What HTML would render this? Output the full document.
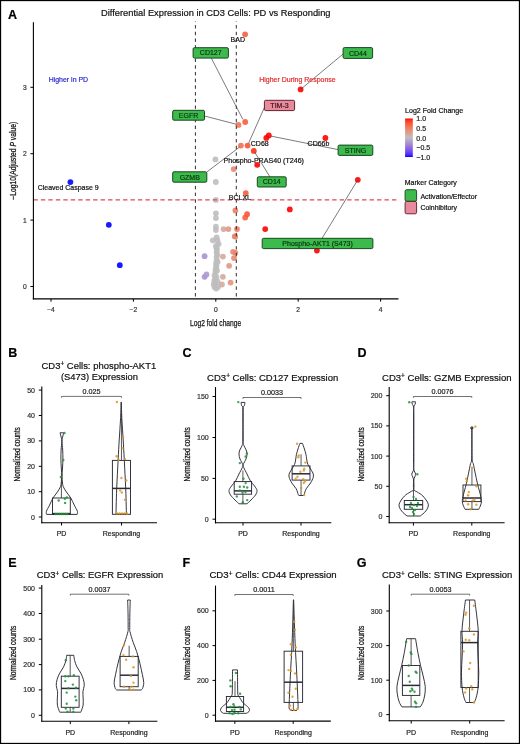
<!DOCTYPE html>
<html><head><meta charset="utf-8"><style>
html,body{margin:0;padding:0;background:#fff;}
svg{display:block;filter:blur(0.3px);font-family:"Liberation Sans", sans-serif;}
</style></head><body>
<svg width="520" height="744" viewBox="0 0 520 744">
<rect x="0" y="0" width="520" height="744" fill="#fff"/>
<text x="8" y="19" font-size="12.5" font-weight="bold" fill="#000" stroke="#000" stroke-width="0.2">A</text>
<text x="101" y="16.3" font-size="9.5" textLength="229.5" lengthAdjust="spacingAndGlyphs" fill="#111" stroke="#111" stroke-width="0.2">Differential Expression in CD3 Cells: PD vs Responding</text>
<circle cx="245.1" cy="34.3" r="2.9" fill="#f75e3f" fill-opacity="0.9"/>
<circle cx="300.6" cy="89.4" r="2.9" fill="#ff0000" fill-opacity="0.9"/>
<circle cx="325.4" cy="138" r="2.9" fill="#ff0000" fill-opacity="0.9"/>
<circle cx="245.2" cy="122" r="2.9" fill="#f75e3f" fill-opacity="0.9"/>
<circle cx="238.5" cy="124.9" r="2.9" fill="#f0785b" fill-opacity="0.9"/>
<circle cx="240.9" cy="145.6" r="2.9" fill="#f36f51" fill-opacity="0.9"/>
<circle cx="247.6" cy="145.6" r="2.9" fill="#f95334" fill-opacity="0.9"/>
<circle cx="253.8" cy="150.9" r="2.9" fill="#fd2e16" fill-opacity="0.9"/>
<circle cx="257.2" cy="164.8" r="2.9" fill="#ff0000" fill-opacity="0.9"/>
<circle cx="266.3" cy="137.9" r="2.9" fill="#ff0000" fill-opacity="0.9"/>
<circle cx="268.8" cy="135.5" r="2.9" fill="#ff0000" fill-opacity="0.9"/>
<circle cx="233.7" cy="169.1" r="2.9" fill="#ea8870" fill-opacity="0.9"/>
<circle cx="245.8" cy="193.1" r="2.9" fill="#f85b3c" fill-opacity="0.9"/>
<circle cx="357.8" cy="179.8" r="2.9" fill="#ff0000" fill-opacity="0.9"/>
<circle cx="289.8" cy="209.4" r="2.9" fill="#ff0000" fill-opacity="0.9"/>
<circle cx="265.2" cy="229.1" r="2.9" fill="#ff0000" fill-opacity="0.9"/>
<circle cx="316.9" cy="250.6" r="2.9" fill="#ff0000" fill-opacity="0.9"/>
<circle cx="70.4" cy="182.1" r="2.9" fill="#0000ff" fill-opacity="0.9"/>
<circle cx="108.8" cy="224.8" r="2.9" fill="#0000ff" fill-opacity="0.9"/>
<circle cx="119.8" cy="265.2" r="2.9" fill="#0000ff" fill-opacity="0.9"/>
<circle cx="215.4" cy="159.4" r="2.9" fill="#bebebe" fill-opacity="0.9"/>
<circle cx="215.8" cy="182" r="2.9" fill="#bebebe" fill-opacity="0.9"/>
<circle cx="215.9" cy="199.9" r="2.9" fill="#bebebe" fill-opacity="0.9"/>
<circle cx="215.9" cy="213.3" r="2.9" fill="#bebebe" fill-opacity="0.9"/>
<circle cx="215.9" cy="218.1" r="2.9" fill="#bebebe" fill-opacity="0.9"/>
<circle cx="215.9" cy="226.7" r="2.9" fill="#bebebe" fill-opacity="0.9"/>
<circle cx="215.9" cy="230.1" r="2.9" fill="#bebebe" fill-opacity="0.9"/>
<circle cx="216.6" cy="237.4" r="2.9" fill="#bebebe" fill-opacity="0.9"/>
<circle cx="212.8" cy="240.3" r="2.9" fill="#bebebe" fill-opacity="0.9"/>
<circle cx="218.6" cy="244.1" r="2.9" fill="#bebebe" fill-opacity="0.9"/>
<circle cx="216.6" cy="248" r="2.9" fill="#bebebe" fill-opacity="0.9"/>
<circle cx="216.6" cy="252.3" r="2.9" fill="#bebebe" fill-opacity="0.9"/>
<circle cx="216.6" cy="257.1" r="2.9" fill="#bebebe" fill-opacity="0.9"/>
<circle cx="216" cy="263.8" r="2.9" fill="#bebebe" fill-opacity="0.9"/>
<circle cx="216" cy="267.7" r="2.9" fill="#bebebe" fill-opacity="0.9"/>
<circle cx="215.5" cy="272.5" r="2.9" fill="#bebebe" fill-opacity="0.9"/>
<circle cx="214.5" cy="275.4" r="2.9" fill="#bebebe" fill-opacity="0.9"/>
<circle cx="215" cy="279.2" r="2.9" fill="#bebebe" fill-opacity="0.9"/>
<circle cx="215.5" cy="283.1" r="2.9" fill="#bebebe" fill-opacity="0.9"/>
<circle cx="214.5" cy="286.9" r="2.9" fill="#bebebe" fill-opacity="0.9"/>
<circle cx="218" cy="286.9" r="2.9" fill="#bebebe" fill-opacity="0.9"/>
<circle cx="216.6" cy="260.5" r="2.9" fill="#bebebe" fill-opacity="0.9"/>
<circle cx="215.5" cy="269.8" r="2.9" fill="#bebebe" fill-opacity="0.9"/>
<circle cx="216.5" cy="277" r="2.9" fill="#bebebe" fill-opacity="0.9"/>
<circle cx="217.5" cy="240.5" r="2.9" fill="#bebebe" fill-opacity="0.9"/>
<circle cx="216.8" cy="250" r="2.9" fill="#bebebe" fill-opacity="0.9"/>
<circle cx="217.2" cy="254.7" r="2.9" fill="#bebebe" fill-opacity="0.9"/>
<circle cx="216.5" cy="265.8" r="2.9" fill="#bebebe" fill-opacity="0.9"/>
<circle cx="217" cy="270.5" r="2.9" fill="#bebebe" fill-opacity="0.9"/>
<circle cx="214.2" cy="281" r="2.9" fill="#bebebe" fill-opacity="0.9"/>
<circle cx="217.5" cy="281.5" r="2.9" fill="#bebebe" fill-opacity="0.9"/>
<circle cx="216.2" cy="288.6" r="2.9" fill="#bebebe" fill-opacity="0.9"/>
<circle cx="213.8" cy="284.5" r="2.9" fill="#bebebe" fill-opacity="0.9"/>
<circle cx="217.6" cy="262" r="2.9" fill="#bebebe" fill-opacity="0.9"/>
<circle cx="216" cy="246" r="2.9" fill="#bebebe" fill-opacity="0.9"/>
<circle cx="204.6" cy="256.2" r="2.9" fill="#aa92d2" fill-opacity="0.9"/>
<circle cx="204.6" cy="276.8" r="2.9" fill="#aa92d2" fill-opacity="0.9"/>
<circle cx="206.5" cy="274.4" r="2.9" fill="#ae9acf" fill-opacity="0.9"/>
<circle cx="223.6" cy="229.1" r="2.9" fill="#d5a79b" fill-opacity="0.9"/>
<circle cx="228.4" cy="229.1" r="2.9" fill="#e09986" fill-opacity="0.9"/>
<circle cx="222.9" cy="256.6" r="2.9" fill="#d4a99e" fill-opacity="0.9"/>
<circle cx="222.9" cy="276.8" r="2.9" fill="#d4a99e" fill-opacity="0.9"/>
<circle cx="221.9" cy="284.5" r="2.9" fill="#d1aca3" fill-opacity="0.9"/>
<circle cx="235.4" cy="210.4" r="2.9" fill="#ec8268" fill-opacity="0.9"/>
<circle cx="237" cy="229.1" r="2.9" fill="#ee7d62" fill-opacity="0.9"/>
<circle cx="235.1" cy="236.3" r="2.9" fill="#ec836a" fill-opacity="0.9"/>
<circle cx="233" cy="251.8" r="2.9" fill="#e88a73" fill-opacity="0.9"/>
<circle cx="235.4" cy="252.8" r="2.9" fill="#ec8268" fill-opacity="0.9"/>
<circle cx="234" cy="258.1" r="2.9" fill="#ea876e" fill-opacity="0.9"/>
<circle cx="229.1" cy="265.8" r="2.9" fill="#e29783" fill-opacity="0.9"/>
<circle cx="230.6" cy="282.6" r="2.9" fill="#e4927d" fill-opacity="0.9"/>
<circle cx="234.9" cy="236.4" r="2.9" fill="#eb846b" fill-opacity="0.9"/>
<circle cx="245.2" cy="217.6" r="2.9" fill="#f75e3f" fill-opacity="0.9"/>
<circle cx="247.1" cy="214.2" r="2.9" fill="#f95537" fill-opacity="0.9"/>
<line x1="195.4" y1="21.3" x2="195.4" y2="298.5" stroke="#222" stroke-width="0.95" stroke-dasharray="3.4 3.3" stroke-dashoffset="2.9"/>
<line x1="236.3" y1="21.3" x2="236.3" y2="298.5" stroke="#222" stroke-width="0.95" stroke-dasharray="3.4 3.3" stroke-dashoffset="2.9"/>
<line x1="33.4" y1="199.9" x2="396.5" y2="199.9" stroke="#da4a5c" stroke-width="1.3" stroke-dasharray="4.4 3.07"/>
<line x1="211.3" y1="58.1" x2="242.8" y2="119.3" stroke="#444" stroke-width="0.7"/>
<line x1="204.5" y1="116" x2="236.5" y2="124.3" stroke="#444" stroke-width="0.7"/>
<line x1="264.4" y1="107.5" x2="248.6" y2="143.2" stroke="#444" stroke-width="0.7"/>
<line x1="206.8" y1="172" x2="239.4" y2="147.2" stroke="#444" stroke-width="0.7"/>
<line x1="254.8" y1="152.3" x2="270" y2="177" stroke="#444" stroke-width="0.7"/>
<line x1="270.5" y1="136" x2="338" y2="149.6" stroke="#444" stroke-width="0.7"/>
<line x1="300.6" y1="89.4" x2="343.1" y2="54" stroke="#444" stroke-width="0.7"/>
<line x1="357.8" y1="179.8" x2="322" y2="238.3" stroke="#444" stroke-width="0.7"/>
<text x="230.6" y="42" font-size="7" fill="#111" stroke="#111" stroke-width="0.2">BAD</text>
<text x="250.8" y="145.6" font-size="7" fill="#111" stroke="#111" stroke-width="0.2">CD68</text>
<text x="307.6" y="145.8" font-size="7" fill="#111" stroke="#111" stroke-width="0.2">CD66b</text>
<text x="223.5" y="162.9" font-size="7" textLength="80.5" lengthAdjust="spacingAndGlyphs" fill="#111" stroke="#111" stroke-width="0.2">Phospho-PRAS40 (T246)</text>
<text x="228.8" y="200.2" font-size="7" fill="#111" stroke="#111" stroke-width="0.2">BCLXL</text>
<text x="37.7" y="189.8" font-size="7" textLength="61" lengthAdjust="spacingAndGlyphs" fill="#111" stroke="#111" stroke-width="0.2">Cleaved Caspase 9</text>
<text x="48.7" y="81.9" font-size="7" textLength="39.4" lengthAdjust="spacingAndGlyphs" fill="#2b2bd0" stroke="#2b2bd0" stroke-width="0.2">Higher in PD</text>
<text x="259.25" y="81.8" font-size="7" textLength="76.5" lengthAdjust="spacingAndGlyphs" fill="#e32a2a" stroke="#e32a2a" stroke-width="0.2">Higher During Response</text>
<rect x="193.1" y="47.7" width="35.30000000000001" height="10.399999999999999" rx="1.3" fill="#3cba4c" stroke="#133f1b" stroke-width="0.95"/>
<text x="210.75" y="55.400000000000006" font-size="7" text-anchor="middle" fill="#0b3312" stroke="#0b3312" stroke-width="0.18">CD127</text>
<rect x="343.1" y="47.6" width="29.5" height="10.799999999999997" rx="1.3" fill="#3cba4c" stroke="#133f1b" stroke-width="0.95"/>
<text x="357.85" y="55.5" font-size="7" text-anchor="middle" fill="#0b3312" stroke="#0b3312" stroke-width="0.18">CD44</text>
<rect x="264.4" y="100.3" width="30.200000000000045" height="10.299999999999997" rx="1.3" fill="#e78a9c" stroke="#5a1a28" stroke-width="0.95"/>
<text x="279.5" y="107.94999999999999" font-size="7" text-anchor="middle" fill="#3d0f1a" stroke="#3d0f1a" stroke-width="0.18">TIM-3</text>
<rect x="172.7" y="110.3" width="31.80000000000001" height="9.900000000000006" rx="1.3" fill="#3cba4c" stroke="#133f1b" stroke-width="0.95"/>
<text x="188.6" y="117.75" font-size="7" text-anchor="middle" fill="#0b3312" stroke="#0b3312" stroke-width="0.18">EGFR</text>
<rect x="338.1" y="145.1" width="34.69999999999999" height="10.300000000000011" rx="1.3" fill="#3cba4c" stroke="#133f1b" stroke-width="0.95"/>
<text x="355.45000000000005" y="152.75" font-size="7" text-anchor="middle" fill="#0b3312" stroke="#0b3312" stroke-width="0.18">STING</text>
<rect x="172.7" y="171.8" width="34.10000000000002" height="10.399999999999977" rx="1.3" fill="#3cba4c" stroke="#133f1b" stroke-width="0.95"/>
<text x="189.75" y="179.5" font-size="7" text-anchor="middle" fill="#0b3312" stroke="#0b3312" stroke-width="0.18">GZMB</text>
<rect x="257.3" y="176.8" width="28.899999999999977" height="10.199999999999989" rx="1.3" fill="#3cba4c" stroke="#133f1b" stroke-width="0.95"/>
<text x="271.75" y="184.4" font-size="7" text-anchor="middle" fill="#0b3312" stroke="#0b3312" stroke-width="0.18">CD14</text>
<rect x="262.2" y="238.3" width="110.69999999999999" height="10.299999999999983" rx="1.3" fill="#3cba4c" stroke="#133f1b" stroke-width="0.95"/>
<text x="317.54999999999995" y="245.95" font-size="7" text-anchor="middle" fill="#0b3312" stroke="#0b3312" stroke-width="0.18">Phospho-AKT1 (S473)</text>
<line x1="33.4" y1="22.3" x2="33.4" y2="299.45" stroke="#000" stroke-width="1.1"/>
<line x1="32.85" y1="298.9" x2="398.5" y2="298.9" stroke="#000" stroke-width="1.1"/>
<line x1="30.4" y1="286.5" x2="33.4" y2="286.5" stroke="#000" stroke-width="1.0"/>
<text x="26.8" y="288.9" font-size="6.7" text-anchor="end" fill="#333" stroke="#333" stroke-width="0.2">0</text>
<line x1="30.4" y1="220.1" x2="33.4" y2="220.1" stroke="#000" stroke-width="1.0"/>
<text x="26.8" y="222.5" font-size="6.7" text-anchor="end" fill="#333" stroke="#333" stroke-width="0.2">1</text>
<line x1="30.4" y1="153.7" x2="33.4" y2="153.7" stroke="#000" stroke-width="1.0"/>
<text x="26.8" y="156.1" font-size="6.7" text-anchor="end" fill="#333" stroke="#333" stroke-width="0.2">2</text>
<line x1="30.4" y1="87.29999999999998" x2="33.4" y2="87.29999999999998" stroke="#000" stroke-width="1.0"/>
<text x="26.8" y="89.69999999999999" font-size="6.7" text-anchor="end" fill="#333" stroke="#333" stroke-width="0.2">3</text>
<line x1="51.0" y1="298.9" x2="51.0" y2="301.7" stroke="#000" stroke-width="1.0"/>
<text x="51.0" y="312" font-size="6.7" text-anchor="middle" fill="#333" stroke="#333" stroke-width="0.2">−4</text>
<line x1="133.4" y1="298.9" x2="133.4" y2="301.7" stroke="#000" stroke-width="1.0"/>
<text x="133.4" y="312" font-size="6.7" text-anchor="middle" fill="#333" stroke="#333" stroke-width="0.2">−2</text>
<line x1="215.8" y1="298.9" x2="215.8" y2="301.7" stroke="#000" stroke-width="1.0"/>
<text x="215.8" y="312" font-size="6.7" text-anchor="middle" fill="#333" stroke="#333" stroke-width="0.2">0</text>
<line x1="298.20000000000005" y1="298.9" x2="298.20000000000005" y2="301.7" stroke="#000" stroke-width="1.0"/>
<text x="298.20000000000005" y="312" font-size="6.7" text-anchor="middle" fill="#333" stroke="#333" stroke-width="0.2">2</text>
<line x1="380.6" y1="298.9" x2="380.6" y2="301.7" stroke="#000" stroke-width="1.0"/>
<text x="380.6" y="312" font-size="6.7" text-anchor="middle" fill="#333" stroke="#333" stroke-width="0.2">4</text>
<text x="190" y="326" font-size="9.6" textLength="51.2" lengthAdjust="spacingAndGlyphs" fill="#111" stroke="#111" stroke-width="0.25">Log2 fold change</text>
<text transform="translate(16.1,160.75) rotate(-90)" x="0" y="0" font-size="8.3" text-anchor="middle" textLength="78" lengthAdjust="spacingAndGlyphs" fill="#111" stroke="#111" stroke-width="0.25">−Log10(Adjusted <tspan font-style="italic">P</tspan> value)</text>
<text x="405.1" y="113.1" font-size="7" textLength="58" lengthAdjust="spacingAndGlyphs" fill="#111" stroke="#111" stroke-width="0.2">Log2 Fold Change</text>
<defs><linearGradient id="cb" x1="0" y1="0" x2="0" y2="1"><stop offset="0.000" stop-color="#ff0000"/><stop offset="0.050" stop-color="#fd351c"/><stop offset="0.100" stop-color="#fa4d2f"/><stop offset="0.150" stop-color="#f76041"/><stop offset="0.200" stop-color="#f37053"/><stop offset="0.250" stop-color="#ed7f64"/><stop offset="0.300" stop-color="#e78d76"/><stop offset="0.350" stop-color="#e09a87"/><stop offset="0.400" stop-color="#d7a699"/><stop offset="0.450" stop-color="#ccb2ac"/><stop offset="0.500" stop-color="#bebebe"/><stop offset="0.550" stop-color="#b7aec6"/><stop offset="0.600" stop-color="#b09ecd"/><stop offset="0.650" stop-color="#a78ed4"/><stop offset="0.700" stop-color="#9e7eda"/><stop offset="0.750" stop-color="#926de1"/><stop offset="0.800" stop-color="#855de7"/><stop offset="0.850" stop-color="#754ced"/><stop offset="0.900" stop-color="#6139f3"/><stop offset="0.950" stop-color="#4624f9"/><stop offset="1.000" stop-color="#0000ff"/></linearGradient></defs>
<rect x="405.1" y="118.5" width="7.7" height="38.5" fill="url(#cb)"/>
<text x="416.3" y="121.4" font-size="7" fill="#222" stroke="#222" stroke-width="0.2">1.0</text>
<text x="416.3" y="131.0" font-size="7" fill="#222" stroke="#222" stroke-width="0.2">0.5</text>
<text x="416.3" y="140.5" font-size="7" fill="#222" stroke="#222" stroke-width="0.2">0.0</text>
<text x="416.3" y="150.1" font-size="7" fill="#222" stroke="#222" stroke-width="0.2">−0.5</text>
<text x="416.3" y="159.7" font-size="7" fill="#222" stroke="#222" stroke-width="0.2">−1.0</text>
<text x="404.8" y="184.7" font-size="7" textLength="52" lengthAdjust="spacingAndGlyphs" fill="#111" stroke="#111" stroke-width="0.2">Marker Category</text>
<rect x="405.1" y="189.7" width="11.5" height="11.6" rx="1.5" fill="#3cba4c" stroke="#133f1b" stroke-width="0.9"/>
<rect x="405.1" y="201.4" width="11.5" height="12.4" rx="1.5" fill="#e78a9c" stroke="#5a1a28" stroke-width="0.9"/>
<text x="420.4" y="199.3" font-size="7" textLength="56.6" lengthAdjust="spacingAndGlyphs" fill="#111" stroke="#111" stroke-width="0.2">Activation/Effector</text>
<text x="420.4" y="210.2" font-size="7" textLength="36.7" lengthAdjust="spacingAndGlyphs" fill="#111" stroke="#111" stroke-width="0.2">Coinhibitory</text>
<text x="8.3" y="357" font-size="12.5" font-weight="bold" fill="#000" stroke="#000" stroke-width="0.2">B</text>
<text x="41.5" y="369.1" font-size="9.6" textLength="114.7" lengthAdjust="spacingAndGlyphs" fill="#111" stroke="#111" stroke-width="0.2">CD3<tspan font-size="6.6" dy="-2.7">+</tspan><tspan dy="2.7"> </tspan>Cells: phospho-AKT1</text>
<text x="60.9" y="380.2" font-size="9.6" textLength="77.1" lengthAdjust="spacingAndGlyphs" fill="#111" stroke="#111" stroke-width="0.2">(S473) Expression</text>
<line x1="41.8" y1="386.4" x2="41.8" y2="523.25" stroke="#000" stroke-width="1.1"/>
<line x1="41.25" y1="522.7" x2="157.0" y2="522.7" stroke="#000" stroke-width="1.1"/>
<line x1="38.8" y1="517" x2="41.8" y2="517" stroke="#000" stroke-width="1.0"/>
<text x="35.0" y="519.5" font-size="7" text-anchor="end" fill="#333" stroke="#333" stroke-width="0.2">0</text>
<line x1="38.8" y1="491.7" x2="41.8" y2="491.7" stroke="#000" stroke-width="1.0"/>
<text x="35.0" y="494.2" font-size="7" text-anchor="end" fill="#333" stroke="#333" stroke-width="0.2">10</text>
<line x1="38.8" y1="466.3" x2="41.8" y2="466.3" stroke="#000" stroke-width="1.0"/>
<text x="35.0" y="468.8" font-size="7" text-anchor="end" fill="#333" stroke="#333" stroke-width="0.2">20</text>
<line x1="38.8" y1="440.9" x2="41.8" y2="440.9" stroke="#000" stroke-width="1.0"/>
<text x="35.0" y="443.4" font-size="7" text-anchor="end" fill="#333" stroke="#333" stroke-width="0.2">30</text>
<line x1="38.8" y1="415.5" x2="41.8" y2="415.5" stroke="#000" stroke-width="1.0"/>
<text x="35.0" y="418.0" font-size="7" text-anchor="end" fill="#333" stroke="#333" stroke-width="0.2">40</text>
<line x1="38.8" y1="390.1" x2="41.8" y2="390.1" stroke="#000" stroke-width="1.0"/>
<text x="35.0" y="392.6" font-size="7" text-anchor="end" fill="#333" stroke="#333" stroke-width="0.2">50</text>
<line x1="61.5" y1="522.7" x2="61.5" y2="525.5" stroke="#000" stroke-width="1.0"/>
<text x="61.5" y="536.3" font-size="7" text-anchor="middle" fill="#222" stroke="#222" stroke-width="0.2">PD</text>
<line x1="121.5" y1="522.7" x2="121.5" y2="525.5" stroke="#000" stroke-width="1.0"/>
<text x="121.5" y="536.3" font-size="7" text-anchor="middle" fill="#222" stroke="#222" stroke-width="0.2">Responding</text>
<path d="M61.5,397.79999999999995 V396.4 H121.5 V397.79999999999995" fill="none" stroke="#444" stroke-width="0.75"/>
<text x="91.5" y="394.2" font-size="7.2" text-anchor="middle" fill="#222" stroke="#222" stroke-width="0.2">0.025</text>
<text transform="translate(20.3,454.3) rotate(-90)" x="0" y="0" font-size="8.4" text-anchor="middle" textLength="54.3" lengthAdjust="spacingAndGlyphs" fill="#111" stroke="#111" stroke-width="0.25">Normalized counts</text>
<text x="182.6" y="357" font-size="12.5" font-weight="bold" fill="#000" stroke="#000" stroke-width="0.2">C</text>
<text x="207.1" y="380.6" font-size="9.6" textLength="131.2" lengthAdjust="spacingAndGlyphs" fill="#111" stroke="#111" stroke-width="0.2">CD3<tspan font-size="6.6" dy="-2.7">+</tspan><tspan dy="2.7"> </tspan>Cells: CD127 Expression</text>
<line x1="215.5" y1="387.1" x2="215.5" y2="523.3499999999999" stroke="#000" stroke-width="1.1"/>
<line x1="214.95" y1="522.8" x2="331.3" y2="522.8" stroke="#000" stroke-width="1.1"/>
<line x1="212.5" y1="519.2" x2="215.5" y2="519.2" stroke="#000" stroke-width="1.0"/>
<text x="208.7" y="521.7" font-size="7" text-anchor="end" fill="#333" stroke="#333" stroke-width="0.2">0</text>
<line x1="212.5" y1="478.4" x2="215.5" y2="478.4" stroke="#000" stroke-width="1.0"/>
<text x="208.7" y="480.9" font-size="7" text-anchor="end" fill="#333" stroke="#333" stroke-width="0.2">50</text>
<line x1="212.5" y1="437.5" x2="215.5" y2="437.5" stroke="#000" stroke-width="1.0"/>
<text x="208.7" y="440.0" font-size="7" text-anchor="end" fill="#333" stroke="#333" stroke-width="0.2">100</text>
<line x1="212.5" y1="396.5" x2="215.5" y2="396.5" stroke="#000" stroke-width="1.0"/>
<text x="208.7" y="399.0" font-size="7" text-anchor="end" fill="#333" stroke="#333" stroke-width="0.2">150</text>
<line x1="243" y1="522.8" x2="243" y2="525.5999999999999" stroke="#000" stroke-width="1.0"/>
<text x="243" y="536.3" font-size="7" text-anchor="middle" fill="#222" stroke="#222" stroke-width="0.2">PD</text>
<line x1="301" y1="522.8" x2="301" y2="525.5999999999999" stroke="#000" stroke-width="1.0"/>
<text x="301" y="536.3" font-size="7" text-anchor="middle" fill="#222" stroke="#222" stroke-width="0.2">Responding</text>
<path d="M243,398.9 V397.5 H301 V398.9" fill="none" stroke="#444" stroke-width="0.75"/>
<text x="272.0" y="395.3" font-size="7.2" text-anchor="middle" fill="#222" stroke="#222" stroke-width="0.2">0.0033</text>
<text transform="translate(190.1,454.3) rotate(-90)" x="0" y="0" font-size="8.4" text-anchor="middle" textLength="54.3" lengthAdjust="spacingAndGlyphs" fill="#111" stroke="#111" stroke-width="0.25">Normalized counts</text>
<text x="357.6" y="357" font-size="12.5" font-weight="bold" fill="#000" stroke="#000" stroke-width="0.2">D</text>
<text x="382" y="380.6" font-size="9.6" textLength="129.6" lengthAdjust="spacingAndGlyphs" fill="#111" stroke="#111" stroke-width="0.2">CD3<tspan font-size="6.6" dy="-2.7">+</tspan><tspan dy="2.7"> </tspan>Cells: GZMB Expression</text>
<line x1="389.2" y1="386.9" x2="389.2" y2="523.3499999999999" stroke="#000" stroke-width="1.1"/>
<line x1="388.65" y1="522.8" x2="504.6" y2="522.8" stroke="#000" stroke-width="1.1"/>
<line x1="386.2" y1="516.5" x2="389.2" y2="516.5" stroke="#000" stroke-width="1.0"/>
<text x="382.4" y="519.0" font-size="7" text-anchor="end" fill="#333" stroke="#333" stroke-width="0.2">0</text>
<line x1="386.2" y1="486.3" x2="389.2" y2="486.3" stroke="#000" stroke-width="1.0"/>
<text x="382.4" y="488.8" font-size="7" text-anchor="end" fill="#333" stroke="#333" stroke-width="0.2">50</text>
<line x1="386.2" y1="456.1" x2="389.2" y2="456.1" stroke="#000" stroke-width="1.0"/>
<text x="382.4" y="458.6" font-size="7" text-anchor="end" fill="#333" stroke="#333" stroke-width="0.2">100</text>
<line x1="386.2" y1="425.9" x2="389.2" y2="425.9" stroke="#000" stroke-width="1.0"/>
<text x="382.4" y="428.4" font-size="7" text-anchor="end" fill="#333" stroke="#333" stroke-width="0.2">150</text>
<line x1="386.2" y1="395.7" x2="389.2" y2="395.7" stroke="#000" stroke-width="1.0"/>
<text x="382.4" y="398.2" font-size="7" text-anchor="end" fill="#333" stroke="#333" stroke-width="0.2">200</text>
<line x1="413.4" y1="522.8" x2="413.4" y2="525.5999999999999" stroke="#000" stroke-width="1.0"/>
<text x="413.4" y="536.0" font-size="7" text-anchor="middle" fill="#222" stroke="#222" stroke-width="0.2">PD</text>
<line x1="471.8" y1="522.8" x2="471.8" y2="525.5999999999999" stroke="#000" stroke-width="1.0"/>
<text x="471.8" y="536.0" font-size="7" text-anchor="middle" fill="#222" stroke="#222" stroke-width="0.2">Responding</text>
<path d="M413.4,397.9 V396.5 H471.8 V397.9" fill="none" stroke="#444" stroke-width="0.75"/>
<text x="442.6" y="394.3" font-size="7.2" text-anchor="middle" fill="#222" stroke="#222" stroke-width="0.2">0.0076</text>
<text transform="translate(364.1,454.3) rotate(-90)" x="0" y="0" font-size="8.4" text-anchor="middle" textLength="54.3" lengthAdjust="spacingAndGlyphs" fill="#111" stroke="#111" stroke-width="0.25">Normalized counts</text>
<text x="8.3" y="566.7" font-size="12.5" font-weight="bold" fill="#000" stroke="#000" stroke-width="0.2">E</text>
<text x="36.8" y="578.3" font-size="9.6" textLength="126.4" lengthAdjust="spacingAndGlyphs" fill="#111" stroke="#111" stroke-width="0.2">CD3<tspan font-size="6.6" dy="-2.7">+</tspan><tspan dy="2.7"> </tspan>Cells: EGFR Expression</text>
<line x1="41.8" y1="585" x2="41.8" y2="721.8499999999999" stroke="#000" stroke-width="1.1"/>
<line x1="41.25" y1="721.3" x2="157.4" y2="721.3" stroke="#000" stroke-width="1.1"/>
<line x1="38.8" y1="715.3" x2="41.8" y2="715.3" stroke="#000" stroke-width="1.0"/>
<text x="35.0" y="717.8" font-size="7" text-anchor="end" fill="#333" stroke="#333" stroke-width="0.2">0</text>
<line x1="38.8" y1="689.9" x2="41.8" y2="689.9" stroke="#000" stroke-width="1.0"/>
<text x="35.0" y="692.4" font-size="7" text-anchor="end" fill="#333" stroke="#333" stroke-width="0.2">100</text>
<line x1="38.8" y1="664.6" x2="41.8" y2="664.6" stroke="#000" stroke-width="1.0"/>
<text x="35.0" y="667.1" font-size="7" text-anchor="end" fill="#333" stroke="#333" stroke-width="0.2">200</text>
<line x1="38.8" y1="639.2" x2="41.8" y2="639.2" stroke="#000" stroke-width="1.0"/>
<text x="35.0" y="641.7" font-size="7" text-anchor="end" fill="#333" stroke="#333" stroke-width="0.2">300</text>
<line x1="38.8" y1="613.5" x2="41.8" y2="613.5" stroke="#000" stroke-width="1.0"/>
<text x="35.0" y="616.0" font-size="7" text-anchor="end" fill="#333" stroke="#333" stroke-width="0.2">400</text>
<line x1="38.8" y1="588.1" x2="41.8" y2="588.1" stroke="#000" stroke-width="1.0"/>
<text x="35.0" y="590.6" font-size="7" text-anchor="end" fill="#333" stroke="#333" stroke-width="0.2">500</text>
<line x1="70.3" y1="721.3" x2="70.3" y2="724.0999999999999" stroke="#000" stroke-width="1.0"/>
<text x="70.3" y="734.5" font-size="7" text-anchor="middle" fill="#222" stroke="#222" stroke-width="0.2">PD</text>
<line x1="128.9" y1="721.3" x2="128.9" y2="724.0999999999999" stroke="#000" stroke-width="1.0"/>
<text x="128.9" y="734.5" font-size="7" text-anchor="middle" fill="#222" stroke="#222" stroke-width="0.2">Responding</text>
<path d="M70.3,595.6 V594.2 H128.9 V595.6" fill="none" stroke="#444" stroke-width="0.75"/>
<text x="99.6" y="592.0" font-size="7.2" text-anchor="middle" fill="#222" stroke="#222" stroke-width="0.2">0.0037</text>
<text transform="translate(16.1,652.8) rotate(-90)" x="0" y="0" font-size="8.4" text-anchor="middle" textLength="54.3" lengthAdjust="spacingAndGlyphs" fill="#111" stroke="#111" stroke-width="0.25">Normalized counts</text>
<text x="182.6" y="566.7" font-size="12.5" font-weight="bold" fill="#000" stroke="#000" stroke-width="0.2">F</text>
<text x="209.4" y="578.3" font-size="9.6" textLength="127.2" lengthAdjust="spacingAndGlyphs" fill="#111" stroke="#111" stroke-width="0.2">CD3<tspan font-size="6.6" dy="-2.7">+</tspan><tspan dy="2.7"> </tspan>Cells: CD44 Expression</text>
<line x1="215.5" y1="585.6" x2="215.5" y2="721.65" stroke="#000" stroke-width="1.1"/>
<line x1="214.95" y1="721.1" x2="330.8" y2="721.1" stroke="#000" stroke-width="1.1"/>
<line x1="212.5" y1="715.2" x2="215.5" y2="715.2" stroke="#000" stroke-width="1.0"/>
<text x="208.7" y="717.7" font-size="7" text-anchor="end" fill="#333" stroke="#333" stroke-width="0.2">0</text>
<line x1="212.5" y1="680.4" x2="215.5" y2="680.4" stroke="#000" stroke-width="1.0"/>
<text x="208.7" y="682.9" font-size="7" text-anchor="end" fill="#333" stroke="#333" stroke-width="0.2">200</text>
<line x1="212.5" y1="645.6" x2="215.5" y2="645.6" stroke="#000" stroke-width="1.0"/>
<text x="208.7" y="648.1" font-size="7" text-anchor="end" fill="#333" stroke="#333" stroke-width="0.2">400</text>
<line x1="212.5" y1="610.8" x2="215.5" y2="610.8" stroke="#000" stroke-width="1.0"/>
<text x="208.7" y="613.3" font-size="7" text-anchor="end" fill="#333" stroke="#333" stroke-width="0.2">600</text>
<line x1="234.85" y1="721.1" x2="234.85" y2="723.9" stroke="#000" stroke-width="1.0"/>
<text x="234.85" y="734.5" font-size="7" text-anchor="middle" fill="#222" stroke="#222" stroke-width="0.2">PD</text>
<line x1="293.2" y1="721.1" x2="293.2" y2="723.9" stroke="#000" stroke-width="1.0"/>
<text x="293.2" y="734.5" font-size="7" text-anchor="middle" fill="#222" stroke="#222" stroke-width="0.2">Responding</text>
<path d="M234.85,595.9 V594.5 H293.2 V595.9" fill="none" stroke="#444" stroke-width="0.75"/>
<text x="264.025" y="592.3" font-size="7.2" text-anchor="middle" fill="#222" stroke="#222" stroke-width="0.2">0.0011</text>
<text transform="translate(190.1,652.8) rotate(-90)" x="0" y="0" font-size="8.4" text-anchor="middle" textLength="54.3" lengthAdjust="spacingAndGlyphs" fill="#111" stroke="#111" stroke-width="0.25">Normalized counts</text>
<text x="356.8" y="566.7" font-size="12.5" font-weight="bold" fill="#000" stroke="#000" stroke-width="0.2">G</text>
<text x="382" y="578.3" font-size="9.6" textLength="130.3" lengthAdjust="spacingAndGlyphs" fill="#111" stroke="#111" stroke-width="0.2">CD3<tspan font-size="6.6" dy="-2.7">+</tspan><tspan dy="2.7"> </tspan>Cells: STING Expression</text>
<line x1="389.3" y1="584.4" x2="389.3" y2="721.3499999999999" stroke="#000" stroke-width="1.1"/>
<line x1="388.75" y1="720.8" x2="504.6" y2="720.8" stroke="#000" stroke-width="1.1"/>
<line x1="386.3" y1="714.6" x2="389.3" y2="714.6" stroke="#000" stroke-width="1.0"/>
<text x="382.5" y="717.1" font-size="7" text-anchor="end" fill="#333" stroke="#333" stroke-width="0.2">0</text>
<line x1="386.3" y1="680.2" x2="389.3" y2="680.2" stroke="#000" stroke-width="1.0"/>
<text x="382.5" y="682.7" font-size="7" text-anchor="end" fill="#333" stroke="#333" stroke-width="0.2">100</text>
<line x1="386.3" y1="645.6" x2="389.3" y2="645.6" stroke="#000" stroke-width="1.0"/>
<text x="382.5" y="648.1" font-size="7" text-anchor="end" fill="#333" stroke="#333" stroke-width="0.2">200</text>
<line x1="386.3" y1="611" x2="389.3" y2="611" stroke="#000" stroke-width="1.0"/>
<text x="382.5" y="613.5" font-size="7" text-anchor="end" fill="#333" stroke="#333" stroke-width="0.2">300</text>
<line x1="411.2" y1="720.8" x2="411.2" y2="723.5999999999999" stroke="#000" stroke-width="1.0"/>
<text x="411.2" y="734.5" font-size="7" text-anchor="middle" fill="#222" stroke="#222" stroke-width="0.2">PD</text>
<line x1="469.7" y1="720.8" x2="469.7" y2="723.5999999999999" stroke="#000" stroke-width="1.0"/>
<text x="469.7" y="734.5" font-size="7" text-anchor="middle" fill="#222" stroke="#222" stroke-width="0.2">Responding</text>
<path d="M411.2,595.6 V594.2 H469.7 V595.6" fill="none" stroke="#444" stroke-width="0.75"/>
<text x="440.45" y="592.0" font-size="7.2" text-anchor="middle" fill="#222" stroke="#222" stroke-width="0.2">0.0053</text>
<text transform="translate(364.1,652.8) rotate(-90)" x="0" y="0" font-size="8.4" text-anchor="middle" textLength="54.3" lengthAdjust="spacingAndGlyphs" fill="#111" stroke="#111" stroke-width="0.25">Normalized counts</text>
<path d="M60.00,432.80 C60.15,433.33 60.60,434.58 60.90,436.00 C61.20,437.42 61.77,438.97 61.80,441.30 C61.83,443.63 61.25,446.98 61.10,450.00 C60.95,453.02 60.87,456.40 60.90,459.40 C60.93,462.40 61.15,465.18 61.30,468.00 C61.45,470.82 61.78,473.97 61.80,476.30 C61.82,478.63 61.60,480.30 61.40,482.00 C61.20,483.70 61.27,484.83 60.60,486.50 C59.93,488.17 58.67,490.08 57.40,492.00 C56.13,493.92 54.30,495.83 53.00,498.00 C51.70,500.17 50.70,502.78 49.60,505.00 C48.50,507.22 46.89,509.73 46.40,511.30 C45.91,512.87 46.61,513.88 46.65,514.40 L77.15,514.40 C77.19,513.88 77.89,512.87 77.40,511.30 C76.91,509.73 75.30,507.22 74.20,505.00 C73.10,502.78 72.10,500.17 70.80,498.00 C69.50,495.83 67.67,493.92 66.40,492.00 C65.13,490.08 63.87,488.17 63.20,486.50 C62.53,484.83 62.60,483.70 62.40,482.00 C62.20,480.30 61.98,478.63 62.00,476.30 C62.02,473.97 62.35,470.82 62.50,468.00 C62.65,465.18 62.87,462.40 62.90,459.40 C62.93,456.40 62.85,453.02 62.70,450.00 C62.55,446.98 61.97,443.63 62.00,441.30 C62.03,438.97 62.60,437.42 62.90,436.00 C63.20,434.58 63.65,433.33 63.80,432.80 Z" fill="none" stroke="#2a2a36" stroke-width="0.95"/>
<line x1="61.4" y1="476" x2="61.4" y2="498" stroke="#3a3a3a" stroke-width="0.85"/>
<line x1="61.4" y1="514.4" x2="61.4" y2="514.4" stroke="#3a3a3a" stroke-width="0.85"/>
<rect x="52.5" y="498" width="17.799999999999997" height="16.399999999999977" fill="none" stroke="#2a2a36" stroke-width="0.95"/>
<line x1="52.5" y1="513.6" x2="70.3" y2="513.6" stroke="#2a2a36" stroke-width="1.5"/>
<circle cx="58.7" cy="500.5" r="1.2" fill="#22903a" fill-opacity="0.85"/>
<circle cx="64.8" cy="498.7" r="1.2" fill="#22903a" fill-opacity="0.85"/>
<circle cx="65.1" cy="502.9" r="1.2" fill="#22903a" fill-opacity="0.85"/>
<circle cx="66.9" cy="497.4" r="1.2" fill="#22903a" fill-opacity="0.85"/>
<circle cx="55.5" cy="514" r="1.2" fill="#22903a" fill-opacity="0.85"/>
<circle cx="57.5" cy="514" r="1.2" fill="#22903a" fill-opacity="0.85"/>
<circle cx="59.5" cy="514" r="1.2" fill="#22903a" fill-opacity="0.85"/>
<circle cx="61.5" cy="514" r="1.2" fill="#22903a" fill-opacity="0.85"/>
<circle cx="63.5" cy="514" r="1.2" fill="#22903a" fill-opacity="0.85"/>
<circle cx="65.5" cy="514" r="1.2" fill="#22903a" fill-opacity="0.85"/>
<circle cx="67.5" cy="514" r="1.2" fill="#22903a" fill-opacity="0.85"/>
<circle cx="63.3" cy="460" r="1.2" fill="#22903a" fill-opacity="0.85"/>
<circle cx="60.9" cy="476.9" r="1.2" fill="#22903a" fill-opacity="0.85"/>
<circle cx="64.5" cy="433" r="1.2" fill="#22903a" fill-opacity="0.85"/>
<path d="M121.15,402.10 C121.04,405.08 120.80,413.68 120.48,420.00 C120.16,426.32 119.61,433.27 119.21,440.00 C118.82,446.73 118.52,452.33 118.10,460.40 C117.68,468.47 117.02,480.97 116.70,488.40 C116.38,495.83 116.32,500.73 116.20,505.00 C116.08,509.27 116.03,512.50 116.00,514.00 L126.40,514.00 C126.37,512.50 126.32,509.27 126.20,505.00 C126.08,500.73 126.02,495.83 125.70,488.40 C125.38,480.97 124.72,468.47 124.30,460.40 C123.88,452.33 123.58,446.73 123.19,440.00 C122.79,433.27 122.24,426.32 121.92,420.00 C121.60,413.68 121.36,405.08 121.25,402.10 Z" fill="none" stroke="#2a2a36" stroke-width="0.95"/>
<line x1="121.45" y1="402.1" x2="121.45" y2="460.4" stroke="#3a3a3a" stroke-width="0.85"/>
<line x1="121.45" y1="514.3" x2="121.45" y2="514.3" stroke="#3a3a3a" stroke-width="0.85"/>
<rect x="112.4" y="460.4" width="18.099999999999994" height="53.89999999999998" fill="none" stroke="#2a2a36" stroke-width="0.95"/>
<line x1="112.4" y1="488.4" x2="130.5" y2="488.4" stroke="#2a2a36" stroke-width="1.5"/>
<circle cx="116.9" cy="402" r="1.2" fill="#dc9628" fill-opacity="0.85"/>
<circle cx="123.1" cy="436.8" r="1.2" fill="#dc9628" fill-opacity="0.85"/>
<circle cx="122.6" cy="448.1" r="1.2" fill="#dc9628" fill-opacity="0.85"/>
<circle cx="116.6" cy="456.2" r="1.2" fill="#dc9628" fill-opacity="0.85"/>
<circle cx="118.5" cy="459.7" r="1.2" fill="#dc9628" fill-opacity="0.85"/>
<circle cx="125" cy="459.1" r="1.2" fill="#dc9628" fill-opacity="0.85"/>
<circle cx="121.4" cy="478" r="1.2" fill="#dc9628" fill-opacity="0.85"/>
<circle cx="126.3" cy="480.4" r="1.2" fill="#dc9628" fill-opacity="0.85"/>
<circle cx="120.2" cy="490.4" r="1.2" fill="#dc9628" fill-opacity="0.85"/>
<circle cx="121.8" cy="492.5" r="1.2" fill="#dc9628" fill-opacity="0.85"/>
<circle cx="125" cy="499.8" r="1.2" fill="#dc9628" fill-opacity="0.85"/>
<circle cx="117" cy="513.5" r="1.2" fill="#dc9628" fill-opacity="0.85"/>
<circle cx="119.5" cy="513.5" r="1.2" fill="#dc9628" fill-opacity="0.85"/>
<circle cx="122" cy="513.5" r="1.2" fill="#dc9628" fill-opacity="0.85"/>
<circle cx="124.5" cy="513.5" r="1.2" fill="#dc9628" fill-opacity="0.85"/>
<circle cx="127" cy="513.5" r="1.2" fill="#dc9628" fill-opacity="0.85"/>
<path d="M241.14,402.40 C241.20,402.92 241.25,404.65 241.52,405.50 C241.79,406.35 242.55,405.08 242.79,407.50 C243.02,409.92 242.92,414.58 242.95,420.00 C242.98,425.42 243.08,435.77 242.95,440.00 C242.82,444.23 242.68,443.73 242.15,445.40 C241.63,447.07 240.33,448.53 239.80,450.00 C239.27,451.47 238.97,452.70 239.00,454.20 C239.03,455.70 239.37,457.27 240.00,459.00 C240.63,460.73 242.41,463.17 242.79,464.60 C243.17,466.03 242.91,466.03 242.28,467.60 C241.65,469.17 240.11,471.78 239.00,474.00 C237.89,476.22 236.85,478.90 235.60,480.90 C234.35,482.90 232.60,484.40 231.50,486.00 C230.40,487.60 229.17,489.00 229.00,490.50 C228.83,492.00 229.50,493.42 230.50,495.00 C231.50,496.58 233.58,498.53 235.00,500.00 C236.42,501.47 238.33,503.17 239.00,503.80 L247.00,503.80 C247.67,503.17 249.58,501.47 251.00,500.00 C252.42,498.53 254.50,496.58 255.50,495.00 C256.50,493.42 257.17,492.00 257.00,490.50 C256.83,489.00 255.60,487.60 254.50,486.00 C253.40,484.40 251.65,482.90 250.40,480.90 C249.15,478.90 248.11,476.22 247.00,474.00 C245.89,471.78 244.35,469.17 243.72,467.60 C243.09,466.03 242.83,466.03 243.21,464.60 C243.59,463.17 245.37,460.73 246.00,459.00 C246.63,457.27 246.97,455.70 247.00,454.20 C247.03,452.70 246.73,451.47 246.20,450.00 C245.67,448.53 244.37,447.07 243.85,445.40 C243.32,443.73 243.18,444.23 243.05,440.00 C242.92,435.77 243.02,425.42 243.05,420.00 C243.08,414.58 242.98,409.92 243.21,407.50 C243.45,405.08 244.21,406.35 244.48,405.50 C244.75,404.65 244.80,402.92 244.86,402.40 Z" fill="none" stroke="#2a2a36" stroke-width="0.95"/>
<line x1="242.89999999999998" y1="470.5" x2="242.89999999999998" y2="481.6" stroke="#3a3a3a" stroke-width="0.85"/>
<line x1="242.89999999999998" y1="494.2" x2="242.89999999999998" y2="503.8" stroke="#3a3a3a" stroke-width="0.85"/>
<rect x="234.2" y="481.6" width="17.400000000000006" height="12.599999999999966" fill="none" stroke="#2a2a36" stroke-width="0.95"/>
<line x1="234.2" y1="490.9" x2="251.6" y2="490.9" stroke="#2a2a36" stroke-width="1.5"/>
<circle cx="238.3" cy="402.1" r="1.2" fill="#22903a" fill-opacity="0.85"/>
<circle cx="246.9" cy="453.5" r="1.2" fill="#22903a" fill-opacity="0.85"/>
<circle cx="245.7" cy="456.5" r="1.2" fill="#22903a" fill-opacity="0.85"/>
<circle cx="239.8" cy="463.1" r="1.2" fill="#22903a" fill-opacity="0.85"/>
<circle cx="243.5" cy="478.7" r="1.2" fill="#22903a" fill-opacity="0.85"/>
<circle cx="243.9" cy="486.8" r="1.2" fill="#22903a" fill-opacity="0.85"/>
<circle cx="247.2" cy="487.5" r="1.2" fill="#22903a" fill-opacity="0.85"/>
<circle cx="239.8" cy="490.5" r="1.2" fill="#22903a" fill-opacity="0.85"/>
<circle cx="245.4" cy="492" r="1.2" fill="#22903a" fill-opacity="0.85"/>
<circle cx="242.5" cy="492.7" r="1.2" fill="#22903a" fill-opacity="0.85"/>
<circle cx="236.8" cy="496.4" r="1.2" fill="#22903a" fill-opacity="0.85"/>
<circle cx="247.2" cy="500.1" r="1.2" fill="#22903a" fill-opacity="0.85"/>
<circle cx="242.8" cy="502.3" r="1.2" fill="#22903a" fill-opacity="0.85"/>
<circle cx="245.7" cy="483.1" r="1.2" fill="#22903a" fill-opacity="0.85"/>
<circle cx="239.8" cy="486.8" r="1.2" fill="#22903a" fill-opacity="0.85"/>
<path d="M299.91,443.40 C299.59,444.33 298.58,447.12 298.00,449.00 C297.42,450.88 296.90,452.37 296.40,454.70 C295.90,457.03 295.65,460.78 295.00,463.00 C294.35,465.22 293.42,466.33 292.50,468.00 C291.58,469.67 290.06,471.47 289.50,473.00 C288.94,474.53 288.76,475.53 289.15,477.20 C289.54,478.87 290.67,481.07 291.85,483.00 C293.02,484.93 295.12,486.85 296.20,488.80 C297.28,490.75 297.85,493.58 298.33,494.70 C298.81,495.82 298.96,495.37 299.09,495.50 L303.31,495.50 C303.44,495.37 303.59,495.82 304.07,494.70 C304.55,493.58 305.12,490.75 306.20,488.80 C307.28,486.85 309.38,484.93 310.55,483.00 C311.73,481.07 312.86,478.87 313.25,477.20 C313.64,475.53 313.46,474.53 312.90,473.00 C312.34,471.47 310.82,469.67 309.90,468.00 C308.98,466.33 308.05,465.22 307.40,463.00 C306.75,460.78 306.50,457.03 306.00,454.70 C305.50,452.37 304.98,450.88 304.40,449.00 C303.81,447.12 302.81,444.33 302.49,443.40 Z" fill="none" stroke="#2a2a36" stroke-width="0.95"/>
<line x1="301.05" y1="454.25" x2="301.05" y2="465.9" stroke="#3a3a3a" stroke-width="0.85"/>
<line x1="301.05" y1="480.1" x2="301.05" y2="495.5" stroke="#3a3a3a" stroke-width="0.85"/>
<rect x="292.1" y="465.9" width="17.899999999999977" height="14.200000000000045" fill="none" stroke="#2a2a36" stroke-width="0.95"/>
<line x1="292.1" y1="473.8" x2="310.0" y2="473.8" stroke="#2a2a36" stroke-width="1.5"/>
<circle cx="297.1" cy="443.8" r="1.2" fill="#dc9628" fill-opacity="0.85"/>
<circle cx="298.75" cy="455.5" r="1.2" fill="#dc9628" fill-opacity="0.85"/>
<circle cx="298.3" cy="457.2" r="1.2" fill="#dc9628" fill-opacity="0.85"/>
<circle cx="305.4" cy="462.6" r="1.2" fill="#dc9628" fill-opacity="0.85"/>
<circle cx="304.2" cy="468.8" r="1.2" fill="#dc9628" fill-opacity="0.85"/>
<circle cx="303.75" cy="470.5" r="1.2" fill="#dc9628" fill-opacity="0.85"/>
<circle cx="300.4" cy="471.75" r="1.2" fill="#dc9628" fill-opacity="0.85"/>
<circle cx="297.5" cy="476.75" r="1.2" fill="#dc9628" fill-opacity="0.85"/>
<circle cx="295.8" cy="478.8" r="1.2" fill="#dc9628" fill-opacity="0.85"/>
<circle cx="303.3" cy="479.25" r="1.2" fill="#dc9628" fill-opacity="0.85"/>
<circle cx="305" cy="481.3" r="1.2" fill="#dc9628" fill-opacity="0.85"/>
<circle cx="303.75" cy="483" r="1.2" fill="#dc9628" fill-opacity="0.85"/>
<circle cx="301.25" cy="488" r="1.2" fill="#dc9628" fill-opacity="0.85"/>
<circle cx="304.2" cy="495.1" r="1.2" fill="#dc9628" fill-opacity="0.85"/>
<path d="M411.84,401.80 C411.90,402.17 411.92,403.02 412.22,404.00 C412.52,404.98 413.41,405.03 413.65,407.70 C413.89,410.37 413.65,411.28 413.65,420.00 C413.65,428.72 413.65,451.78 413.65,460.00 C413.65,468.22 413.95,466.92 413.65,469.30 C413.35,471.68 411.84,472.52 411.84,474.30 C411.84,476.08 413.35,477.50 413.65,480.00 C413.95,482.50 414.22,487.30 413.65,489.30 C413.07,491.30 411.72,490.88 410.20,492.00 C408.68,493.12 406.35,493.95 404.50,496.00 C402.65,498.05 399.58,501.80 399.10,504.30 C398.62,506.80 400.27,509.05 401.60,511.00 C402.93,512.95 406.18,515.17 407.10,516.00 L420.30,516.00 C421.22,515.17 424.47,512.95 425.80,511.00 C427.13,509.05 428.78,506.80 428.30,504.30 C427.82,501.80 424.75,498.05 422.90,496.00 C421.05,493.95 418.72,493.12 417.20,492.00 C415.68,490.88 414.32,491.30 413.75,489.30 C413.18,487.30 413.45,482.50 413.75,480.00 C414.05,477.50 415.56,476.08 415.56,474.30 C415.56,472.52 414.05,471.68 413.75,469.30 C413.45,466.92 413.75,468.22 413.75,460.00 C413.75,451.78 413.75,428.72 413.75,420.00 C413.75,411.28 413.51,410.37 413.75,407.70 C413.99,405.03 414.88,404.98 415.18,404.00 C415.48,403.02 415.50,402.17 415.56,401.80 Z" fill="none" stroke="#2a2a36" stroke-width="0.95"/>
<line x1="413.5" y1="489.3" x2="413.5" y2="500.5" stroke="#3a3a3a" stroke-width="0.85"/>
<line x1="413.5" y1="509.3" x2="413.5" y2="516" stroke="#3a3a3a" stroke-width="0.85"/>
<rect x="404.3" y="500.5" width="18.399999999999977" height="8.800000000000011" fill="none" stroke="#2a2a36" stroke-width="0.95"/>
<line x1="404.3" y1="504.7" x2="422.7" y2="504.7" stroke="#2a2a36" stroke-width="1.5"/>
<circle cx="409.3" cy="402.3" r="1.2" fill="#22903a" fill-opacity="0.85"/>
<circle cx="417.3" cy="474.3" r="1.2" fill="#22903a" fill-opacity="0.85"/>
<circle cx="413.5" cy="497" r="1.2" fill="#22903a" fill-opacity="0.85"/>
<circle cx="416" cy="499" r="1.2" fill="#22903a" fill-opacity="0.85"/>
<circle cx="411" cy="503" r="1.2" fill="#22903a" fill-opacity="0.85"/>
<circle cx="414" cy="505" r="1.2" fill="#22903a" fill-opacity="0.85"/>
<circle cx="417" cy="506" r="1.2" fill="#22903a" fill-opacity="0.85"/>
<circle cx="412" cy="508" r="1.2" fill="#22903a" fill-opacity="0.85"/>
<circle cx="415" cy="510" r="1.2" fill="#22903a" fill-opacity="0.85"/>
<circle cx="413" cy="512" r="1.2" fill="#22903a" fill-opacity="0.85"/>
<circle cx="410" cy="507" r="1.2" fill="#22903a" fill-opacity="0.85"/>
<circle cx="418" cy="503" r="1.2" fill="#22903a" fill-opacity="0.85"/>
<circle cx="414" cy="514" r="1.2" fill="#22903a" fill-opacity="0.85"/>
<path d="M470.86,427.00 C470.89,427.33 470.89,428.47 471.05,429.00 C471.21,429.53 471.71,425.32 471.81,430.20 C471.92,435.08 471.92,452.67 471.69,458.30 C471.45,463.93 470.86,461.88 470.42,464.00 C469.98,466.12 469.74,467.60 469.03,471.00 C468.31,474.40 467.16,480.15 466.15,484.40 C465.14,488.65 463.58,493.63 462.95,496.50 C462.32,499.37 462.32,500.18 462.35,501.60 C462.37,503.02 462.66,503.72 463.10,505.00 C463.54,506.28 464.68,508.58 465.00,509.30 L478.80,509.30 C479.12,508.58 480.26,506.28 480.70,505.00 C481.14,503.72 481.43,503.02 481.45,501.60 C481.47,500.18 481.48,499.37 480.85,496.50 C480.22,493.63 478.66,488.65 477.65,484.40 C476.64,480.15 475.48,474.40 474.77,471.00 C474.06,467.60 473.82,466.12 473.38,464.00 C472.94,461.88 472.35,463.93 472.11,458.30 C471.88,452.67 471.88,435.08 471.99,430.20 C472.09,425.32 472.59,429.53 472.75,429.00 C472.91,428.47 472.90,427.33 472.94,427.00 Z" fill="none" stroke="#2a2a36" stroke-width="0.95"/>
<line x1="471.95" y1="468.5" x2="471.95" y2="485" stroke="#3a3a3a" stroke-width="0.85"/>
<line x1="471.95" y1="501.6" x2="471.95" y2="509.3" stroke="#3a3a3a" stroke-width="0.85"/>
<rect x="463.0" y="485" width="17.899999999999977" height="16.600000000000023" fill="none" stroke="#2a2a36" stroke-width="0.95"/>
<line x1="463.0" y1="498" x2="480.9" y2="498" stroke="#2a2a36" stroke-width="1.5"/>
<circle cx="475.4" cy="426.6" r="1.2" fill="#dc9628" fill-opacity="0.85"/>
<circle cx="472" cy="467.8" r="1.2" fill="#dc9628" fill-opacity="0.85"/>
<circle cx="466.2" cy="478.7" r="1.2" fill="#dc9628" fill-opacity="0.85"/>
<circle cx="466.8" cy="481.2" r="1.2" fill="#dc9628" fill-opacity="0.85"/>
<circle cx="476.4" cy="486.3" r="1.2" fill="#dc9628" fill-opacity="0.85"/>
<circle cx="468.8" cy="492.1" r="1.2" fill="#dc9628" fill-opacity="0.85"/>
<circle cx="468.1" cy="495.3" r="1.2" fill="#dc9628" fill-opacity="0.85"/>
<circle cx="465.6" cy="500.4" r="1.2" fill="#dc9628" fill-opacity="0.85"/>
<circle cx="472.6" cy="500.4" r="1.2" fill="#dc9628" fill-opacity="0.85"/>
<circle cx="474.5" cy="499.7" r="1.2" fill="#dc9628" fill-opacity="0.85"/>
<circle cx="468.1" cy="504.2" r="1.2" fill="#dc9628" fill-opacity="0.85"/>
<circle cx="476.4" cy="504.8" r="1.2" fill="#dc9628" fill-opacity="0.85"/>
<circle cx="470.7" cy="509.3" r="1.2" fill="#dc9628" fill-opacity="0.85"/>
<path d="M66.70,655.30 C66.56,656.20 66.38,658.77 65.85,660.70 C65.32,662.63 64.57,664.83 63.55,666.90 C62.53,668.97 60.82,671.03 59.75,673.10 C58.68,675.17 57.73,677.23 57.15,679.30 C56.57,681.37 56.17,683.43 56.25,685.50 C56.33,687.57 57.42,689.63 57.60,691.70 C57.78,693.77 57.38,695.67 57.35,697.90 C57.32,700.13 57.07,702.87 57.40,705.10 C57.73,707.33 58.96,710.12 59.35,711.30 C59.74,712.48 59.68,712.05 59.75,712.20 L80.75,712.20 C80.82,712.05 80.76,712.48 81.15,711.30 C81.54,710.12 82.77,707.33 83.10,705.10 C83.43,702.87 83.18,700.13 83.15,697.90 C83.12,695.67 82.72,693.77 82.90,691.70 C83.08,689.63 84.17,687.57 84.25,685.50 C84.33,683.43 83.93,681.37 83.35,679.30 C82.77,677.23 81.82,675.17 80.75,673.10 C79.68,671.03 77.97,668.97 76.95,666.90 C75.93,664.83 75.18,662.63 74.65,660.70 C74.12,658.77 73.94,656.20 73.80,655.30 Z" fill="none" stroke="#2a2a36" stroke-width="0.95"/>
<line x1="70.19999999999999" y1="655.3" x2="70.19999999999999" y2="676.2" stroke="#3a3a3a" stroke-width="0.85"/>
<line x1="70.19999999999999" y1="707.3" x2="70.19999999999999" y2="712.2" stroke="#3a3a3a" stroke-width="0.85"/>
<rect x="61.3" y="676.2" width="17.799999999999997" height="31.09999999999991" fill="none" stroke="#2a2a36" stroke-width="0.95"/>
<line x1="61.3" y1="688.4" x2="79.1" y2="688.4" stroke="#2a2a36" stroke-width="1.5"/>
<circle cx="65.8" cy="660.2" r="1.2" fill="#22903a" fill-opacity="0.85"/>
<circle cx="65.3" cy="676.2" r="1.2" fill="#22903a" fill-opacity="0.85"/>
<circle cx="68.4" cy="676.2" r="1.2" fill="#22903a" fill-opacity="0.85"/>
<circle cx="73.8" cy="675.3" r="1.2" fill="#22903a" fill-opacity="0.85"/>
<circle cx="65.3" cy="681.1" r="1.2" fill="#22903a" fill-opacity="0.85"/>
<circle cx="72.9" cy="684.6" r="1.2" fill="#22903a" fill-opacity="0.85"/>
<circle cx="76" cy="687.7" r="1.2" fill="#22903a" fill-opacity="0.85"/>
<circle cx="68.4" cy="688.2" r="1.2" fill="#22903a" fill-opacity="0.85"/>
<circle cx="66.7" cy="692.6" r="1.2" fill="#22903a" fill-opacity="0.85"/>
<circle cx="75.3" cy="696.6" r="1.2" fill="#22903a" fill-opacity="0.85"/>
<circle cx="76.2" cy="700.2" r="1.2" fill="#22903a" fill-opacity="0.85"/>
<circle cx="66.7" cy="703.7" r="1.2" fill="#22903a" fill-opacity="0.85"/>
<circle cx="65.8" cy="708.6" r="1.2" fill="#22903a" fill-opacity="0.85"/>
<circle cx="73.3" cy="708.6" r="1.2" fill="#22903a" fill-opacity="0.85"/>
<circle cx="67.5" cy="711.7" r="1.2" fill="#22903a" fill-opacity="0.85"/>
<circle cx="73.3" cy="711.7" r="1.2" fill="#22903a" fill-opacity="0.85"/>
<path d="M127.65,600.00 C127.72,602.35 127.97,609.50 128.05,614.10 C128.13,618.70 128.17,624.68 128.15,627.60 C128.13,630.52 128.52,629.15 127.95,631.60 C127.38,634.05 125.87,638.95 124.75,642.30 C123.62,645.65 122.34,648.12 121.20,651.70 C120.06,655.28 118.84,659.98 117.90,663.80 C116.96,667.62 116.17,671.47 115.55,674.60 C114.92,677.73 114.18,680.28 114.15,682.60 C114.12,684.92 114.88,687.27 115.35,688.50 C115.82,689.73 116.68,689.75 116.95,690.00 L140.95,690.00 C141.22,689.75 142.08,689.73 142.55,688.50 C143.02,687.27 143.78,684.92 143.75,682.60 C143.72,680.28 142.97,677.73 142.35,674.60 C141.72,671.47 140.94,667.62 140.00,663.80 C139.06,659.98 137.84,655.28 136.70,651.70 C135.56,648.12 134.27,645.65 133.15,642.30 C132.02,638.95 130.52,634.05 129.95,631.60 C129.38,629.15 129.77,630.52 129.75,627.60 C129.73,624.68 129.77,618.70 129.85,614.10 C129.93,609.50 130.18,602.35 130.25,600.00 Z" fill="none" stroke="#2a2a36" stroke-width="0.95"/>
<line x1="129.14999999999998" y1="645.7" x2="129.14999999999998" y2="656.4" stroke="#3a3a3a" stroke-width="0.85"/>
<line x1="129.14999999999998" y1="686.7" x2="129.14999999999998" y2="690" stroke="#3a3a3a" stroke-width="0.85"/>
<rect x="120.1" y="656.4" width="18.099999999999994" height="30.300000000000068" fill="none" stroke="#2a2a36" stroke-width="0.95"/>
<line x1="120.1" y1="675.2" x2="138.2" y2="675.2" stroke="#2a2a36" stroke-width="1.5"/>
<circle cx="124.1" cy="645" r="1.2" fill="#dc9628" fill-opacity="0.85"/>
<circle cx="123.4" cy="655.1" r="1.2" fill="#dc9628" fill-opacity="0.85"/>
<circle cx="132.8" cy="656.4" r="1.2" fill="#dc9628" fill-opacity="0.85"/>
<circle cx="126.1" cy="659.8" r="1.2" fill="#dc9628" fill-opacity="0.85"/>
<circle cx="133.5" cy="667.2" r="1.2" fill="#dc9628" fill-opacity="0.85"/>
<circle cx="130.8" cy="675.9" r="1.2" fill="#dc9628" fill-opacity="0.85"/>
<circle cx="133.5" cy="682.6" r="1.2" fill="#dc9628" fill-opacity="0.85"/>
<circle cx="124.1" cy="686.7" r="1.2" fill="#dc9628" fill-opacity="0.85"/>
<circle cx="130.1" cy="689.6" r="1.2" fill="#dc9628" fill-opacity="0.85"/>
<circle cx="133.5" cy="689.6" r="1.2" fill="#dc9628" fill-opacity="0.85"/>
<circle cx="131.5" cy="686.7" r="1.2" fill="#dc9628" fill-opacity="0.85"/>
<path d="M232.51,669.90 C232.46,673.75 232.48,688.63 232.25,693.00 C232.03,697.37 232.03,694.47 231.15,696.10 C230.27,697.73 228.35,701.10 226.95,702.80 C225.55,704.50 223.80,705.25 222.75,706.30 C221.70,707.35 220.94,708.23 220.65,709.10 C220.36,709.97 220.53,710.80 221.00,711.50 C221.47,712.20 223.04,713.00 223.45,713.30 L246.55,713.30 C246.96,713.00 248.53,712.20 249.00,711.50 C249.47,710.80 249.64,709.97 249.35,709.10 C249.06,708.23 248.30,707.35 247.25,706.30 C246.20,705.25 244.45,704.50 243.05,702.80 C241.65,701.10 239.73,697.73 238.85,696.10 C237.97,694.47 237.97,697.37 237.75,693.00 C237.52,688.63 237.54,673.75 237.49,669.90 Z" fill="none" stroke="#2a2a36" stroke-width="0.95"/>
<line x1="235.0" y1="681.1" x2="235.0" y2="696.5" stroke="#3a3a3a" stroke-width="0.85"/>
<line x1="235.0" y1="711.5" x2="235.0" y2="713.3" stroke="#3a3a3a" stroke-width="0.85"/>
<rect x="226.4" y="696.5" width="17.19999999999999" height="15.0" fill="none" stroke="#2a2a36" stroke-width="0.95"/>
<line x1="226.4" y1="707.3" x2="243.6" y2="707.3" stroke="#2a2a36" stroke-width="1.5"/>
<circle cx="235.9" cy="673" r="1.2" fill="#22903a" fill-opacity="0.85"/>
<circle cx="230.3" cy="680.4" r="1.2" fill="#22903a" fill-opacity="0.85"/>
<circle cx="230.6" cy="686.3" r="1.2" fill="#22903a" fill-opacity="0.85"/>
<circle cx="240.1" cy="693.7" r="1.2" fill="#22903a" fill-opacity="0.85"/>
<circle cx="233.4" cy="704.2" r="1.2" fill="#22903a" fill-opacity="0.85"/>
<circle cx="234.1" cy="706.3" r="1.2" fill="#22903a" fill-opacity="0.85"/>
<circle cx="230.6" cy="707" r="1.2" fill="#22903a" fill-opacity="0.85"/>
<circle cx="239.4" cy="707" r="1.2" fill="#22903a" fill-opacity="0.85"/>
<circle cx="234.5" cy="709.8" r="1.2" fill="#22903a" fill-opacity="0.85"/>
<circle cx="232" cy="710.1" r="1.2" fill="#22903a" fill-opacity="0.85"/>
<circle cx="240.8" cy="709.4" r="1.2" fill="#22903a" fill-opacity="0.85"/>
<circle cx="229.6" cy="713.3" r="1.2" fill="#22903a" fill-opacity="0.85"/>
<circle cx="234.1" cy="713.3" r="1.2" fill="#22903a" fill-opacity="0.85"/>
<circle cx="238.3" cy="713.3" r="1.2" fill="#22903a" fill-opacity="0.85"/>
<circle cx="232.4" cy="714" r="1.2" fill="#22903a" fill-opacity="0.85"/>
<path d="M293.55,599.80 C293.30,607.08 292.59,630.83 292.06,643.50 C291.52,656.17 290.83,665.57 290.35,675.80 C289.87,686.03 289.31,699.45 289.15,704.90 C288.99,710.35 289.16,707.57 289.40,708.50 C289.64,709.43 290.40,710.17 290.60,710.50 L296.60,710.50 C296.80,710.17 297.56,709.43 297.80,708.50 C298.04,707.57 298.21,710.35 298.05,704.90 C297.89,699.45 297.33,686.03 296.85,675.80 C296.37,665.57 295.68,656.17 295.14,643.50 C294.61,630.83 293.90,607.08 293.65,599.80 Z" fill="none" stroke="#2a2a36" stroke-width="0.95"/>
<line x1="293.35" y1="599.8" x2="293.35" y2="651.2" stroke="#3a3a3a" stroke-width="0.85"/>
<line x1="293.35" y1="702.4" x2="293.35" y2="710.5" stroke="#3a3a3a" stroke-width="0.85"/>
<rect x="284.1" y="651.2" width="18.5" height="51.19999999999993" fill="none" stroke="#2a2a36" stroke-width="0.95"/>
<line x1="284.1" y1="682.2" x2="302.6" y2="682.2" stroke="#2a2a36" stroke-width="1.5"/>
<circle cx="294.2" cy="621.7" r="1.2" fill="#dc9628" fill-opacity="0.85"/>
<circle cx="295" cy="629.7" r="1.2" fill="#dc9628" fill-opacity="0.85"/>
<circle cx="290.9" cy="644.3" r="1.2" fill="#dc9628" fill-opacity="0.85"/>
<circle cx="295.8" cy="647.5" r="1.2" fill="#dc9628" fill-opacity="0.85"/>
<circle cx="290.9" cy="654.8" r="1.2" fill="#dc9628" fill-opacity="0.85"/>
<circle cx="288.5" cy="670.1" r="1.2" fill="#dc9628" fill-opacity="0.85"/>
<circle cx="290.9" cy="670.9" r="1.2" fill="#dc9628" fill-opacity="0.85"/>
<circle cx="295" cy="673.4" r="1.2" fill="#dc9628" fill-opacity="0.85"/>
<circle cx="295.8" cy="688.7" r="1.2" fill="#dc9628" fill-opacity="0.85"/>
<circle cx="288.5" cy="692.7" r="1.2" fill="#dc9628" fill-opacity="0.85"/>
<circle cx="292.5" cy="696.8" r="1.2" fill="#dc9628" fill-opacity="0.85"/>
<circle cx="290.1" cy="705.7" r="1.2" fill="#dc9628" fill-opacity="0.85"/>
<circle cx="290.9" cy="709.7" r="1.2" fill="#dc9628" fill-opacity="0.85"/>
<circle cx="294.2" cy="710" r="1.2" fill="#dc9628" fill-opacity="0.85"/>
<circle cx="297.4" cy="708.9" r="1.2" fill="#dc9628" fill-opacity="0.85"/>
<path d="M406.65,638.70 C406.25,641.07 405.08,648.43 404.25,652.90 C403.42,657.37 402.52,661.65 401.65,665.50 C400.78,669.35 399.83,672.50 399.05,676.00 C398.27,679.50 397.22,683.35 396.95,686.50 C396.68,689.65 397.06,692.28 397.45,694.90 C397.84,697.52 398.56,700.20 399.30,702.20 C400.04,704.20 401.47,706.12 401.90,706.90 L420.30,706.90 C420.73,706.12 422.16,704.20 422.90,702.20 C423.64,700.20 424.36,697.52 424.75,694.90 C425.14,692.28 425.52,689.65 425.25,686.50 C424.98,683.35 423.93,679.50 423.15,676.00 C422.37,672.50 421.42,669.35 420.55,665.50 C419.68,661.65 418.78,657.37 417.95,652.90 C417.12,648.43 415.95,641.07 415.55,638.70 Z" fill="none" stroke="#2a2a36" stroke-width="0.95"/>
<line x1="411.1" y1="638.7" x2="411.1" y2="665.5" stroke="#3a3a3a" stroke-width="0.85"/>
<line x1="411.1" y1="695.4" x2="411.1" y2="706.9" stroke="#3a3a3a" stroke-width="0.85"/>
<rect x="402.4" y="665.5" width="17.400000000000034" height="29.899999999999977" fill="none" stroke="#2a2a36" stroke-width="0.95"/>
<line x1="402.4" y1="685.4" x2="419.8" y2="685.4" stroke="#2a2a36" stroke-width="1.5"/>
<circle cx="406.1" cy="641.9" r="1.2" fill="#22903a" fill-opacity="0.85"/>
<circle cx="410.8" cy="652.4" r="1.2" fill="#22903a" fill-opacity="0.85"/>
<circle cx="411.4" cy="653.9" r="1.2" fill="#22903a" fill-opacity="0.85"/>
<circle cx="408.7" cy="665.5" r="1.2" fill="#22903a" fill-opacity="0.85"/>
<circle cx="415.6" cy="671.8" r="1.2" fill="#22903a" fill-opacity="0.85"/>
<circle cx="416.6" cy="672.8" r="1.2" fill="#22903a" fill-opacity="0.85"/>
<circle cx="408.7" cy="676" r="1.2" fill="#22903a" fill-opacity="0.85"/>
<circle cx="409.8" cy="681.7" r="1.2" fill="#22903a" fill-opacity="0.85"/>
<circle cx="411.9" cy="688.6" r="1.2" fill="#22903a" fill-opacity="0.85"/>
<circle cx="410.3" cy="691.2" r="1.2" fill="#22903a" fill-opacity="0.85"/>
<circle cx="414.5" cy="691.7" r="1.2" fill="#22903a" fill-opacity="0.85"/>
<circle cx="412.4" cy="690.1" r="1.2" fill="#22903a" fill-opacity="0.85"/>
<circle cx="415" cy="701.7" r="1.2" fill="#22903a" fill-opacity="0.85"/>
<circle cx="416.1" cy="703.3" r="1.2" fill="#22903a" fill-opacity="0.85"/>
<circle cx="416.1" cy="706.9" r="1.2" fill="#22903a" fill-opacity="0.85"/>
<path d="M465.45,600.00 C465.13,602.52 464.12,610.00 463.55,615.10 C462.98,620.20 462.16,625.97 462.00,630.60 C461.84,635.23 462.58,638.52 462.60,642.90 C462.62,647.28 462.34,652.00 462.15,656.90 C461.96,661.80 461.45,667.15 461.45,672.30 C461.45,677.45 461.74,683.67 462.15,687.80 C462.56,691.93 463.28,694.65 463.90,697.10 C464.53,699.55 465.57,701.60 465.90,702.50 L474.30,702.50 C474.63,701.60 475.68,699.55 476.30,697.10 C476.93,694.65 477.64,691.93 478.05,687.80 C478.46,683.67 478.75,677.45 478.75,672.30 C478.75,667.15 478.24,661.80 478.05,656.90 C477.86,652.00 477.58,647.28 477.60,642.90 C477.62,638.52 478.36,635.23 478.20,630.60 C478.04,625.97 477.23,620.20 476.65,615.10 C476.08,610.00 475.07,602.52 474.75,600.00 Z" fill="none" stroke="#2a2a36" stroke-width="0.95"/>
<line x1="469.54999999999995" y1="600" x2="469.54999999999995" y2="631.3" stroke="#3a3a3a" stroke-width="0.85"/>
<line x1="469.54999999999995" y1="687.5" x2="469.54999999999995" y2="702.5" stroke="#3a3a3a" stroke-width="0.85"/>
<rect x="460.9" y="631.3" width="17.30000000000001" height="56.200000000000045" fill="none" stroke="#2a2a36" stroke-width="0.95"/>
<line x1="460.9" y1="642.6" x2="478.2" y2="642.6" stroke="#2a2a36" stroke-width="1.5"/>
<circle cx="473.9" cy="605.8" r="1.2" fill="#dc9628" fill-opacity="0.85"/>
<circle cx="466.1" cy="612.8" r="1.2" fill="#dc9628" fill-opacity="0.85"/>
<circle cx="465.5" cy="614.8" r="1.2" fill="#dc9628" fill-opacity="0.85"/>
<circle cx="469.2" cy="628.2" r="1.2" fill="#dc9628" fill-opacity="0.85"/>
<circle cx="473.9" cy="634.4" r="1.2" fill="#dc9628" fill-opacity="0.85"/>
<circle cx="465.8" cy="639.8" r="1.2" fill="#dc9628" fill-opacity="0.85"/>
<circle cx="469.2" cy="640.2" r="1.2" fill="#dc9628" fill-opacity="0.85"/>
<circle cx="463.5" cy="651.4" r="1.2" fill="#dc9628" fill-opacity="0.85"/>
<circle cx="470.2" cy="663" r="1.2" fill="#dc9628" fill-opacity="0.85"/>
<circle cx="469.2" cy="668.9" r="1.2" fill="#dc9628" fill-opacity="0.85"/>
<circle cx="471.2" cy="686.2" r="1.2" fill="#dc9628" fill-opacity="0.85"/>
<circle cx="472.3" cy="689.3" r="1.2" fill="#dc9628" fill-opacity="0.85"/>
<circle cx="466.1" cy="688.6" r="1.2" fill="#dc9628" fill-opacity="0.85"/>
<circle cx="465.1" cy="692.4" r="1.2" fill="#dc9628" fill-opacity="0.85"/>
<circle cx="473.9" cy="702.5" r="1.2" fill="#dc9628" fill-opacity="0.85"/>
<rect x="0.5" y="0.5" width="519" height="743" fill="none" stroke="#000" stroke-width="1.3"/>
</svg></body></html>
